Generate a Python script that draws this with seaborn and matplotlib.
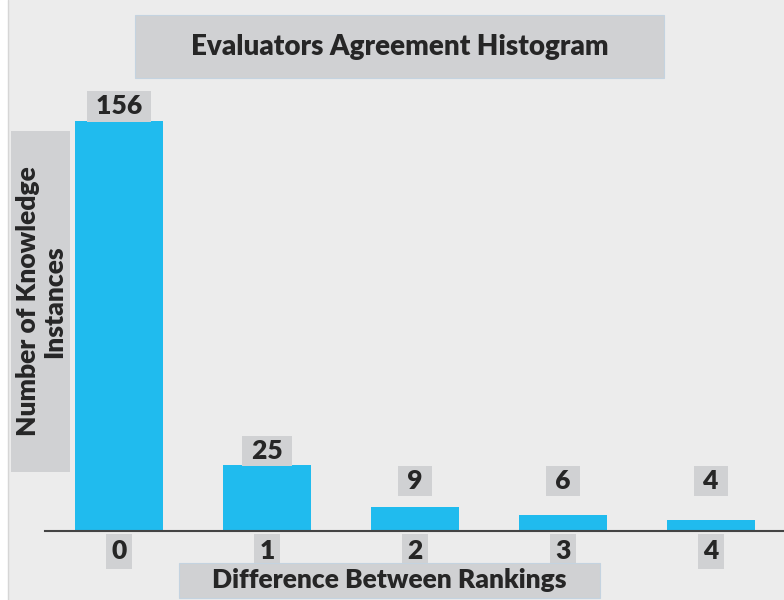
import matplotlib
matplotlib.use("Agg")
import matplotlib.pyplot as plt
import matplotlib.patches as mpatches
from matplotlib.lines import Line2D
import seaborn as sns
import pandas as pd

differences = ["0", "1", "2", "3", "4"]
counts = [156, 25, 9, 6, 4]
title = "Evaluators Agreement Histogram"
xlabel = "Difference Between Rankings"
ylabel = "Number of Knowledge\nInstances"

bg = "#ececec"
box = "#d0d1d3"
blue = "#20bbee"
wt = "heavy"

sns.set_style("white")
plt.rcParams['font.family'] = ['Lato', 'DejaVu Sans']

df = pd.DataFrame({"diff": differences, "count": counts})

W, H = 784, 600
fig = plt.figure(figsize=(7.84, 6.0), dpi=100, facecolor=bg)
# white strip + thin border on the left
fig.add_artist(mpatches.Rectangle((0, 0), 7 / W, 1, transform=fig.transFigure, color="white", zorder=0))
fig.add_artist(Line2D([7.5 / W, 7.5 / W], [0, 1], transform=fig.transFigure, color="#d6d6d6", lw=1))

ax = fig.add_axes([45 / W, 69 / H, 740 / W, 447 / H])
ax.set_facecolor(bg)
sns.barplot(data=df, x="diff", y="count", color=blue, width=0.6, saturation=1, linewidth=0, ax=ax)
ax.set_xlim(-0.5, 4.5)
ax.set_ylim(0, 170)

for s in ["left", "top", "right"]:
    ax.spines[s].set_visible(False)
ax.spines["bottom"].set_color("#444444")
ax.spines["bottom"].set_linewidth(1.5)
ax.set_yticks([])
ax.set_xlabel("")
ax.set_ylabel("")
ax.tick_params(axis="x", length=0, pad=6)
for lbl in ax.get_xticklabels():
    lbl.set_fontsize(19)
    lbl.set_fontweight(wt)
    lbl.set_bbox(dict(boxstyle="square,pad=0.2", fc=box, ec="none"))

# value labels, small bars get a minimum height
for i, v in enumerate(counts):
    ax.text(i, max(v + 5.5, 19), f" {v} ", ha="center", va="center", fontsize=19, fontweight=wt,
            bbox=dict(boxstyle="square,pad=0.12", fc=box, ec="none"))

# title box
fig.add_artist(mpatches.Rectangle((135 / W, 1 - 78 / H), 529 / W, 63 / H, transform=fig.transFigure,
                                  fc=box, ec="#c4d3e0", lw=0.8))
fig.text(399.5 / W, 1 - 46.5 / H, title, ha="center", va="center", fontsize=20, fontweight=wt)

# y label box
fig.add_artist(mpatches.Rectangle((11 / W, 1 - 472 / H), 59 / W, 341 / H, transform=fig.transFigure,
                                  fc=box, ec="none"))
fig.text(41 / W, 1 - 301.5 / H, ylabel, ha="center", va="center", rotation=90, fontsize=19,
         fontweight=wt, linespacing=1.1)

# x label box
fig.add_artist(mpatches.Rectangle((179 / W, 1 - 598 / H), 421 / W, 35 / H, transform=fig.transFigure,
                                  fc=box, ec="#c4d3e0", lw=0.8))
fig.text(389.5 / W, 1 - 580.5 / H, xlabel, ha="center", va="center", fontsize=19, fontweight=wt)

fig.savefig("out.png", dpi=100, facecolor=fig.get_facecolor())
